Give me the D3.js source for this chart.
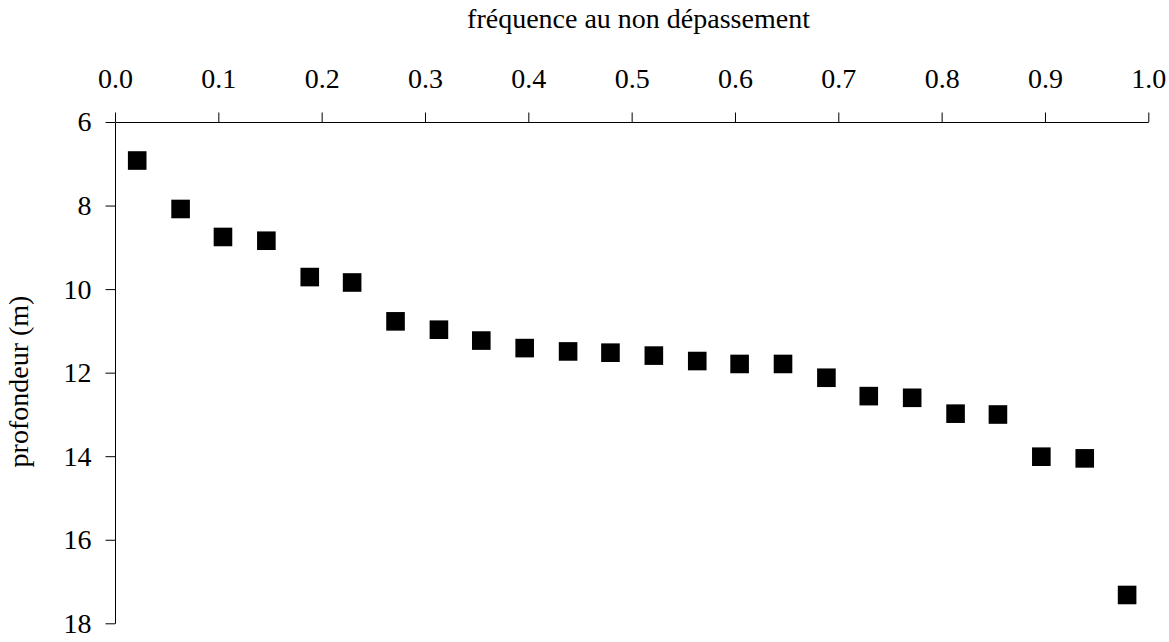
<!DOCTYPE html>
<html>
<head>
<meta charset="utf-8">
<script src="https://cdn.jsdelivr.net/npm/d3@7"></script>
<style>
  body { margin: 0; background: #fff; }
  text { font-family: "Liberation Serif", "Times New Roman", serif; fill: #000; }
</style>
</head>
<body>
<div id="chart"></div>
<script>
// fréquence au non dépassement (x) vs profondeur (y)
var frequence = [0.021, 0.063, 0.104, 0.146, 0.188, 0.229, 0.271, 0.313, 0.354, 0.396, 0.438, 0.479,
                 0.521, 0.563, 0.604, 0.646, 0.688, 0.729, 0.771, 0.813, 0.854, 0.896, 0.938, 0.979];
var profondeur = [6.91, 8.07, 8.74, 8.83, 9.70, 9.83, 10.76, 10.96, 11.22, 11.40, 11.48, 11.51,
                  11.58, 11.71, 11.78, 11.78, 12.11, 12.55, 12.59, 12.97, 12.99, 14.00, 14.04, 17.31];
var xTicks = [0, 0.1, 0.2, 0.3, 0.4, 0.5, 0.6, 0.7, 0.8, 0.9, 1.0];
var yTicks = [6, 8, 10, 12, 14, 16, 18];

var W = 1169, H = 642;
var margin = { top: 122, left: 115, right: 20.7, bottom: 18.7 };
var width = W - margin.left - margin.right;
var height = H - margin.top - margin.bottom;

var svg = d3.select("#chart").append("svg")
    .attr("width", W)
    .attr("height", H);

var g = svg.append("g")
    .attr("transform", "translate(" + margin.left + "," + margin.top + ")");

var x = d3.scaleLinear().domain([0, 1]).range([0, width]);
var y = d3.scaleLinear().domain([6, 18]).range([0, height]);

// top axis
var xAxis = g.append("g")
    .call(d3.axisTop(x)
        .tickValues(xTicks)
        .tickFormat(d3.format(".1f"))
        .tickSizeInner(9.5)
        .tickSizeOuter(0)
        .tickPadding(25));

// left axis
var yAxis = g.append("g")
    .call(d3.axisLeft(y)
        .tickValues(yTicks)
        .tickFormat(d3.format("d"))
        .tickSizeInner(9.5)
        .tickSizeOuter(0)
        .tickPadding(14));

[xAxis, yAxis].forEach(function(a) {
  a.selectAll("text")
      .attr("font-family", "Liberation Serif, Times New Roman, serif")
      .attr("font-size", "28px")
      .attr("fill", "#000");
  a.selectAll("line, path").attr("stroke", "#000").attr("stroke-width", 1);
});

// squares
var size = 18.6;
var data = frequence.map(function(f, i) { return { f: f, p: profondeur[i] }; });
g.selectAll("rect.pt")
    .data(data)
    .enter().append("rect")
    .attr("class", "pt")
    .attr("x", function(d) { return x(d.f) + 0.5 - size / 2; })
    .attr("y", function(d) { return y(d.p) + 0.5 - size / 2; })
    .attr("width", size)
    .attr("height", size)
    .attr("fill", "#000");

// axis titles
svg.append("text")
    .attr("x", 638.5)
    .attr("y", 27.7)
    .attr("text-anchor", "middle")
    .attr("font-size", "28px")
    .text("fréquence au non dépassement");

svg.append("text")
    .attr("transform", "translate(28,381.5) rotate(-90)")
    .attr("text-anchor", "middle")
    .attr("font-size", "28px")
    .text("profondeur (m)");
</script>
</body>
</html>
